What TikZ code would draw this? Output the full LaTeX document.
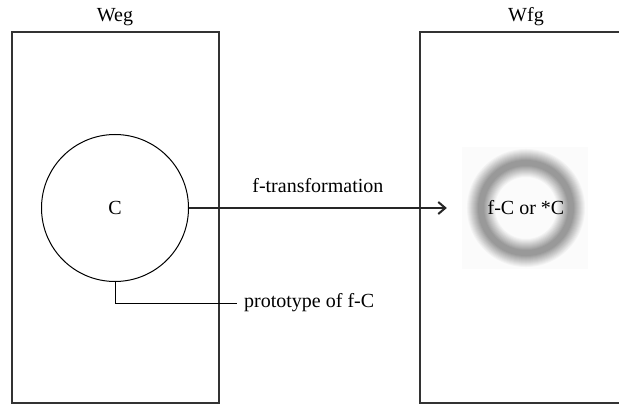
\documentclass[tikz,border=0pt]{standalone}
\usepackage{fontspec}
\setmainfont{Liberation Serif}
\usepackage{tikz}
\usetikzlibrary{arrows.meta, positioning}
\tikzstyle{world} = [draw=black!80, line width=1.4pt]
\tikzstyle{txt} = [font=\fontsize{20}{24}\selectfont, inner sep=0pt]
\tikzstyle{mapping} = [line width=1.8pt, draw=black!85, -{Straight Barb[length=7pt, width=12pt, line width=2pt]}]

\begin{document}
\begin{tikzpicture}[x=1pt, y=1pt]
    \useasboundingbox (0, 0) rectangle (619, 405);
    % the two worlds
    \draw[world] (12, 2) rectangle (219, 373);
    \draw[world] (619, 373) -- (420, 373) -- (420, 2) -- (619, 2);
    \node[txt] (weg) at (115, 388) {Weg};
    \node[txt] (wfg) at (526, 388) {Wfg};
    % C and its fuzzy image
    \node[draw, circle, line width=1pt, minimum size=147pt, txt] (C) at (115, 197) {C};
    \fill[black!1.5] (462, 136) rectangle (588, 258);
    \foreach \i in {1,...,14} {
        \pgfmathsetmacro\w{30-2*\i}
        \pgfmathsetmacro\c{min(40, 1.5+3.2*\i)}
        \draw[line width=\w pt, black!\c] (526, 197) circle (45);
    }
    \node[txt, circle, minimum size=114pt] (fC) at (526, 197) {f-C or *C};
    \coordinate[left=22pt of fC.west] (tip);
    \draw[mapping] (C.east) -- (tip) node[txt, midway, above=14pt] {f-transformation};
    % prototype
    \node[txt, anchor=west] (proto) at (244, 102) {prototype of f-C};
    \draw[line width=1pt] (C.south) |- ([xshift=-7pt]proto.west);
\end{tikzpicture}
\end{document}
